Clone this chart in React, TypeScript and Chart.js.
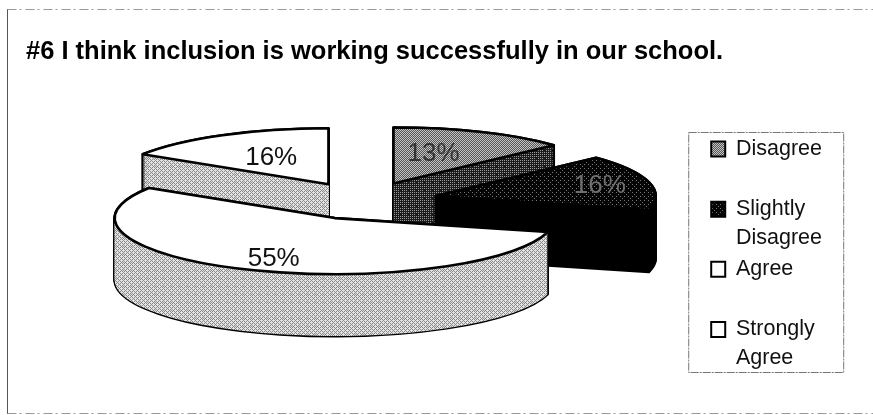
import React, { useEffect, useRef } from "react";
import { Chart, registerables } from "chart.js";

Chart.register(...registerables);

const categories = ["Disagree", "Slightly Disagree", "Agree", "Strongly Agree"];
const shares = [13, 16, 55, 16];
const chartTitle = "#6 I think inclusion is working successfully in our school.";

const FONT = "'Liberation Sans', Arial, sans-serif";
const RX = 220;
const RY = 56;
const DEPTH = 62;
const EXPLODE = 74;
const SHIFT_X = -3;
const SHIFT_Y = -35;
const labelRadius = [0.56, 0.77, 0.78, 0.54];
const labelTurn = [-0.077, 0, -0.045, 0];
const labelColors = ["#333333", "#6f6f6f", "#111111", "#111111"];

const BAYER = [
  [0, 32, 8, 40, 2, 34, 10, 42],
  [48, 16, 56, 24, 50, 18, 58, 26],
  [12, 44, 4, 36, 14, 46, 6, 38],
  [60, 28, 52, 20, 62, 30, 54, 22],
  [3, 35, 11, 43, 1, 33, 9, 41],
  [51, 19, 59, 27, 49, 17, 57, 25],
  [15, 47, 7, 39, 13, 45, 5, 37],
  [63, 31, 55, 23, 61, 29, 53, 21],
];

function dither(lightShare: number, dark: string, light: string) {
  const c = document.createElement("canvas");
  c.width = 8;
  c.height = 8;
  const g = c.getContext("2d")!;
  for (let y = 0; y < 8; y++) {
    for (let x = 0; x < 8; x++) {
      g.fillStyle = BAYER[y][x] / 64 < lightShare ? light : dark;
      g.fillRect(x, y, 1, 1);
    }
  }
  return g.createPattern(c, "repeat")!;
}

function tracePath(ctx: CanvasRenderingContext2D, arc: any, ox: number, oy: number) {
  const r = arc.outerRadius;
  ctx.save();
  ctx.translate(ox, oy);
  ctx.scale(RX / r, RY / r);
  ctx.beginPath();
  ctx.moveTo(0, 0);
  ctx.arc(0, 0, r, arc.startAngle, arc.endAngle);
  ctx.closePath();
  ctx.restore();
}

function makePiePlugin(sideFills: any[]) {
  return {
    id: "extrudedPie",
    beforeDatasetDraw(chart: any) {
      const ctx: CanvasRenderingContext2D = chart.ctx;
      const arcs: any[] = chart.getDatasetMeta(0).data;
      const origin = (arc: any) => {
        const mid = (arc.startAngle + arc.endAngle) / 2;
        return {
          mid,
          x: arc.x + SHIFT_X + Math.cos(mid) * EXPLODE,
          y: arc.y + SHIFT_Y + (Math.sin(mid) * EXPLODE * RY) / RX,
        };
      };
      const order = arcs
        .map((_, i) => i)
        .sort((a, b) => origin(arcs[a]).y - origin(arcs[b]).y);
      ctx.save();
      ctx.lineJoin = "round";
      for (const i of order) {
        const arc = arcs[i];
        const o = origin(arc);
        ctx.strokeStyle = "#000";
        ctx.lineWidth = 2.6;
        for (let d = DEPTH; d >= 0; d--) {
          tracePath(ctx, arc, o.x, o.y + d);
          ctx.stroke();
        }
        ctx.fillStyle = sideFills[i];
        for (let d = DEPTH; d >= 0; d--) {
          tracePath(ctx, arc, o.x, o.y + d);
          ctx.fill();
        }
        tracePath(ctx, arc, o.x, o.y);
        ctx.fillStyle = arc.options.backgroundColor;
        ctx.fill();
        ctx.stroke();
      }
      ctx.textAlign = "center";
      ctx.textBaseline = "middle";
      ctx.font = `26px ${FONT}`;
      arcs.forEach((arc, i) => {
        const o = origin(arc);
        const k = labelRadius[i];
        const a = o.mid + labelTurn[i];
        ctx.fillStyle = labelColors[i];
        ctx.fillText(
          `${shares[i]}%`,
          o.x + Math.cos(a) * RX * k,
          o.y + Math.sin(a) * RY * k
        );
      });
      ctx.restore();
      return false;
    },
    afterDraw(chart: any) {
      const ctx: CanvasRenderingContext2D = chart.ctx;
      const lg = chart.legend;
      ctx.save();
      ctx.lineWidth = 1;
      // outer frame: solid left edge, broken faint top and bottom edges
      ctx.strokeStyle = "#555555";
      ctx.beginPath();
      ctx.moveTo(7.5, 9);
      ctx.lineTo(7.5, 414);
      ctx.stroke();
      ctx.strokeStyle = "#999999";
      ctx.setLineDash([9, 3, 2, 4]);
      ctx.beginPath();
      ctx.moveTo(7.5, 9.5);
      ctx.lineTo(chart.width, 9.5);
      ctx.moveTo(7.5, 413.5);
      ctx.lineTo(chart.width, 413.5);
      ctx.stroke();
      // legend frame
      ctx.strokeStyle = "#777777";
      ctx.setLineDash([8, 1, 2, 1]);
      ctx.strokeRect(lg.left - 19.5, lg.bottom - 246.5, 155, 240);
      ctx.restore();
    },
  };
}

export default function App() {
  const ref = useRef<HTMLCanvasElement>(null);
  useEffect(() => {
    const topFills = [
      dither(0.5, "#555555", "#c4c4c4"),
      dither(0.08, "#050505", "#777777"),
      "#ffffff",
      "#ffffff",
    ];
    const sideFills = [
      dither(0.22, "#1c1c1c", "#9a9a9a"),
      "#000000",
      dither(0.6, "#888888", "#e4e4e4"),
      dither(0.6, "#888888", "#e4e4e4"),
    ];
    const chart = new Chart(ref.current!, {
      type: "pie",
      data: {
        labels: categories,
        datasets: [{ data: shares, backgroundColor: topFills as any, borderWidth: 0 }],
      },
      options: {
        animation: false,
        responsive: false,
        devicePixelRatio: 1,
        radius: 100,
        layout: { padding: { left: 26, right: 41, top: 0, bottom: 36 } },
        plugins: {
          tooltip: { enabled: false },
          title: {
            display: true,
            text: chartTitle,
            align: "start",
            color: "#000",
            font: { family: FONT, size: 25.5, weight: "bold" },
            padding: { top: 37, bottom: 25 },
          },
          legend: {
            position: "right",
            align: "end",
            labels: {
              boxWidth: 14,
              boxHeight: 15,
              padding: 3,
              color: "#111",
              font: { family: FONT, size: 21.5, lineHeight: 1.33 },
              generateLabels(c: any) {
                const items = (Chart as any).overrides.doughnut.plugins.legend.labels.generateLabels(c);
                return items.map((it: any, i: number) => {
                  const words = categories[i].split(" ");
                  return {
                    ...it,
                    text: [words[0], words[1] ?? ""],
                    strokeStyle: "#000",
                    lineWidth: 2,
                  };
                });
              },
            },
          },
        } as any,
      },
      plugins: [makePiePlugin(sideFills)],
    });
    return () => chart.destroy();
  }, []);
  return (
    <canvas
      ref={ref}
      width={873}
      height={415}
      style={{ position: "absolute", left: 0, top: 0, width: 873, height: 415 }}
    />
  );
}
